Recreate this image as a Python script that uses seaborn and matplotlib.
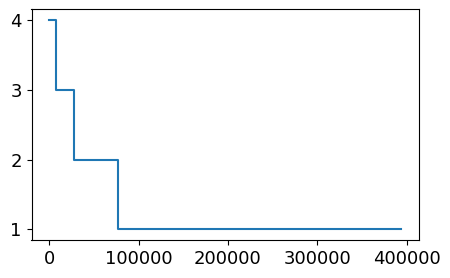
import matplotlib
matplotlib.use("Agg")
import matplotlib.pyplot as plt
import seaborn as sns
import pandas as pd

x_vals = [0, 7500, 28000, 77500, 394000]
y_vals = [4, 3, 2, 1, 1]

df = pd.DataFrame({"x": x_vals, "y": y_vals})

fig = plt.figure(figsize=(4.5, 2.78), dpi=100)
ax = fig.add_axes([0.07, 0.137, 0.861, 0.829])
sns.lineplot(data=df, x="x", y="y", drawstyle="steps-post", ax=ax, color="#1f77b4", linewidth=1.5)
ax.set_xlabel("")
ax.set_ylabel("")
ax.set_yticks([1, 2, 3, 4])
ax.tick_params(labelsize=13)
fig.savefig("out.png", dpi=100)
